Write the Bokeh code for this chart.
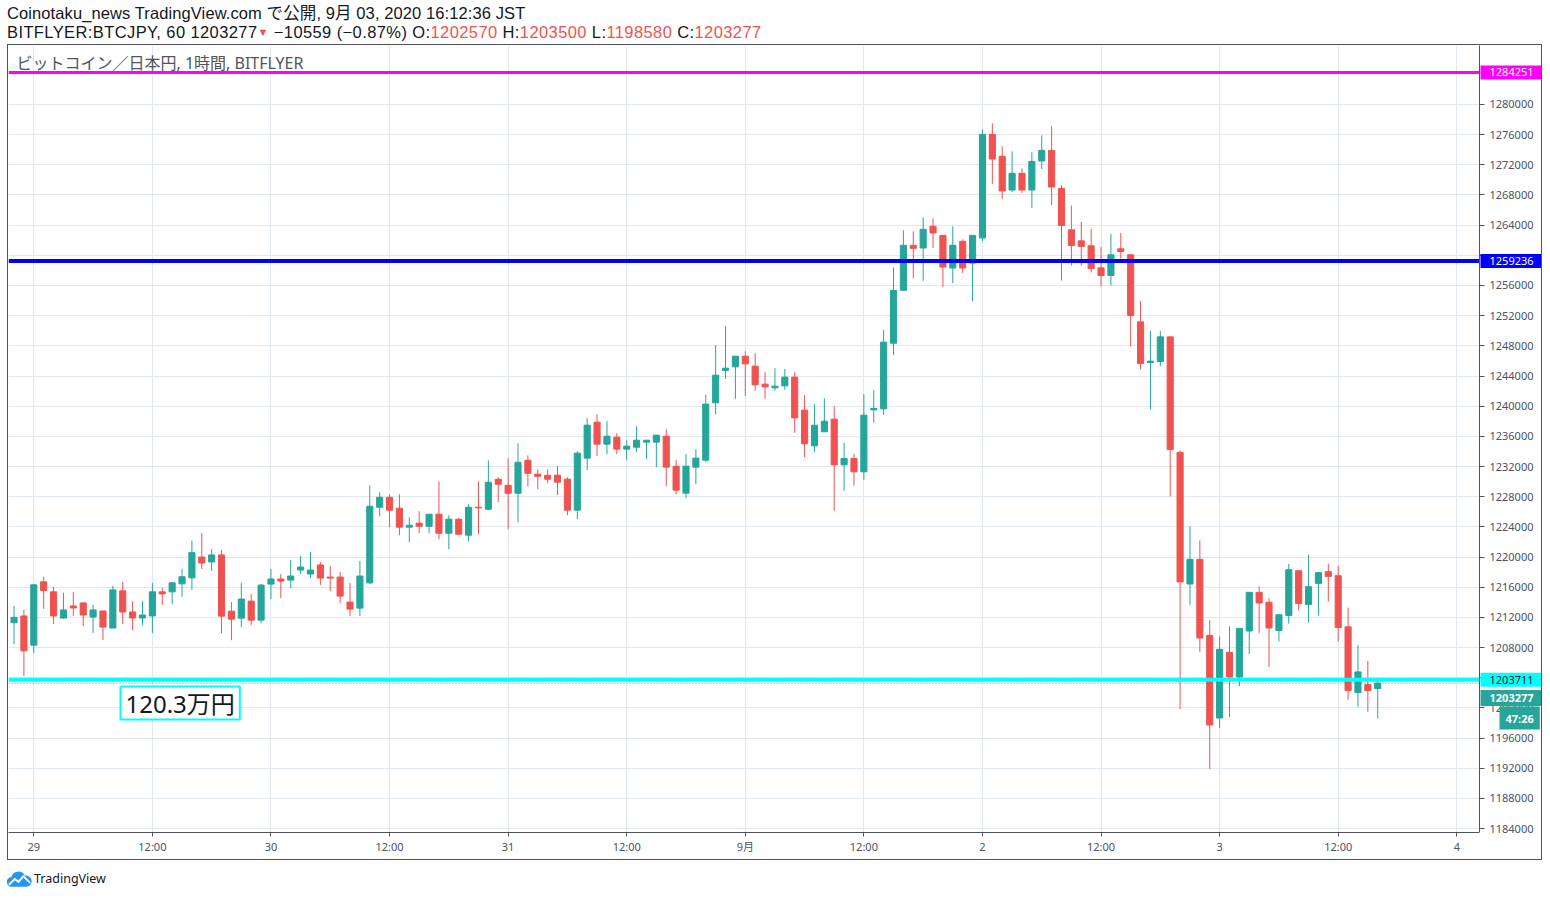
from bokeh.plotting import figure
from bokeh.models import Range1d, FixedTicker, BasicTickFormatter, Span, Label, Div, ColumnDataSource, Grid
from bokeh.layouts import column, row
from bokeh.embed import file_html
from bokeh.resources import INLINE

# hourly candles, hour 0 = 29 Aug 2020 00:00 JST (first candle 28 Aug 22:00, last 3 Sep 16:00)
hours = list(range(-2, 137))
opens = [1211290, 1212180, 1208310, 1216710, 1215380, 1211910, 1213510, 1213910, 1212040, 1212840,
         1210580, 1215510, 1212710, 1211910, 1212180, 1215380, 1215380, 1216440, 1217240, 1220000,
         1219340, 1220270, 1212820, 1211890, 1214150, 1211630, 1216410, 1217080, 1216940, 1218270,
         1217740, 1218940, 1217340, 1217340, 1214020, 1213220, 1216570, 1226600, 1227920, 1226460,
         1223950, 1224480, 1224080, 1225670, 1223150, 1225010, 1222890, 1226600, 1226330, 1230310,
         1229510, 1228450, 1232820, 1230970, 1230830, 1230850, 1230320, 1226210, 1233110, 1237880,
         1234960, 1235890, 1234300, 1234560, 1235230, 1235230, 1236020, 1232040, 1228460, 1231910,
         1232840, 1240440, 1244730, 1245220, 1246630, 1245300, 1242920, 1242430, 1242700, 1243850,
         1239470, 1234740, 1236600, 1238280, 1232220, 1233060, 1231290, 1239510, 1239650, 1248350,
         1255360, 1261330, 1260970, 1263850, 1262650, 1258320, 1261860, 1258980, 1262300, 1276040,
         1273130, 1268660, 1270870, 1268660, 1272510, 1273920, 1268860, 1263380, 1261920, 1261260,
         1258340, 1257330, 1260860, 1260070, 1251180, 1245790, 1245920, 1249190, 1233880, 1216420,
         1219690, 1209610, 1198650, 1207360, 1204090, 1210190, 1215310, 1213990, 1210250, 1212250,
         1218180, 1213710, 1216500, 1218050, 1217520, 1210740, 1202010, 1203080, 1202570]
highs = [1213510, 1212980, 1216440, 1217380, 1216040, 1215240, 1215380, 1214040, 1213640, 1212840,
         1216180, 1216710, 1214180, 1214180, 1216580, 1215910, 1216580, 1218440, 1222180, 1223190,
         1221060, 1220930, 1214020, 1216550, 1215080, 1216410, 1218400, 1217740, 1219600, 1220130,
         1220670, 1219340, 1218800, 1218010, 1216550, 1219470, 1229510, 1228580, 1228320, 1228320,
         1225270, 1226070, 1225670, 1230040, 1225540, 1225140, 1226990, 1230040, 1232820, 1230570,
         1233090, 1235070, 1233480, 1231630, 1231630, 1232040, 1230590, 1234030, 1238410, 1238940,
         1238010, 1236420, 1235490, 1237350, 1235490, 1236160, 1236950, 1232840, 1233640, 1234300,
         1241500, 1248090, 1250610, 1246630, 1247290, 1247030, 1244510, 1245040, 1244910, 1244510,
         1241460, 1240270, 1241060, 1240000, 1235140, 1233680, 1241590, 1242120, 1250080, 1258390,
         1263320, 1263180, 1265040, 1264910, 1262650, 1263850, 1262120, 1262650, 1276710, 1277500,
         1274450, 1273790, 1271540, 1273660, 1275910, 1277110, 1269300, 1266600, 1264440, 1263510,
         1261130, 1262850, 1262980, 1260070, 1253970, 1249990, 1249990, 1249190, 1234140, 1224070,
         1222210, 1211600, 1209480, 1210810, 1210540, 1215310, 1216110, 1214520, 1212340, 1219110,
         1218180, 1220310, 1218050, 1219110, 1218850, 1213270, 1208350, 1206220, 1203500]
lows = [1208440, 1204220, 1207290, 1213110, 1211110, 1211780, 1212180, 1210840, 1209910, 1208980,
        1210580, 1211110, 1210310, 1210980, 1209910, 1213640, 1213780, 1214710, 1215640, 1218400,
        1218140, 1209900, 1208970, 1210700, 1210960, 1211230, 1214420, 1214550, 1215880, 1217740,
        1217210, 1216280, 1215480, 1213890, 1212160, 1212160, 1216440, 1225400, 1223950, 1222890,
        1221960, 1223150, 1223150, 1222360, 1221030, 1222890, 1222090, 1223020, 1226200, 1227260,
        1223680, 1224610, 1229380, 1228980, 1229780, 1228200, 1225550, 1225020, 1231510, 1233370,
        1233640, 1233640, 1232840, 1233900, 1232970, 1231910, 1229390, 1228330, 1227800, 1229660,
        1232570, 1238900, 1243620, 1240970, 1241370, 1242030, 1240970, 1242030, 1242170, 1236460,
        1233280, 1233940, 1236600, 1226120, 1228770, 1229440, 1230230, 1237790, 1238850, 1246760,
        1255360, 1256950, 1256600, 1260970, 1255800, 1256330, 1257660, 1253940, 1261900, 1269460,
        1267470, 1268400, 1268270, 1266280, 1271450, 1266670, 1256660, 1258650, 1258650, 1257720,
        1255870, 1256000, 1259580, 1247910, 1244860, 1239560, 1245260, 1228020, 1199840, 1213640,
        1207400, 1191890, 1197330, 1198780, 1202890, 1207140, 1209920, 1205410, 1208790, 1211180,
        1212910, 1211320, 1212250, 1214110, 1208790, 1201080, 1200150, 1199490, 1198580]
closes = [1212000, 1207560, 1216310, 1215560, 1212180, 1212980, 1213240, 1212310, 1212980, 1210710,
          1215640, 1212710, 1211910, 1212310, 1215380, 1215110, 1216580, 1217380, 1220580, 1219200,
          1220270, 1212160, 1211760, 1214420, 1211630, 1216280, 1217080, 1216810, 1217480, 1218670,
          1218270, 1217210, 1217210, 1214820, 1213090, 1217480, 1226730, 1227920, 1226200, 1223950,
          1224210, 1224080, 1225670, 1223150, 1225010, 1223020, 1226600, 1226510, 1229910, 1229640,
          1228450, 1232560, 1231100, 1230700, 1230310, 1229920, 1226210, 1233770, 1237480, 1234960,
          1236020, 1234300, 1234700, 1235490, 1235490, 1236160, 1231910, 1228860, 1232040, 1233110,
          1240270, 1244110, 1245040, 1246630, 1245610, 1242830, 1242560, 1242650, 1243850, 1238450,
          1235010, 1237480, 1238010, 1232220, 1233060, 1231290, 1238810, 1239690, 1248490, 1255340,
          1261330, 1260930, 1263450, 1262960, 1258450, 1261330, 1258320, 1262650, 1276040, 1272770,
          1268530, 1270870, 1268660, 1272460, 1273920, 1269060, 1263960, 1261300, 1261170, 1258250,
          1257330, 1260070, 1260510, 1252020, 1245660, 1245970, 1249190, 1234250, 1216690, 1219690,
          1209260, 1197720, 1207760, 1204090, 1210540, 1215310, 1213900, 1210590, 1212340, 1218320,
          1213840, 1216060, 1217920, 1217430, 1210650, 1202280, 1204760, 1202280, 1203277]

x_tick_hours = [0, 12, 24, 36, 48, 60, 72, 84, 96, 108, 120, 132, 144]
x_tick_labels = ["29", "12:00", "30", "12:00", "31", "12:00", "9月", "12:00", "2", "12:00", "3", "12:00", "4"]
y_ticks = [1184000, 1188000, 1192000, 1196000, 1200000, 1204000, 1208000, 1212000, 1216000,
           1220000, 1224000, 1228000, 1232000, 1236000, 1240000, 1244000, 1248000, 1252000,
           1256000, 1260000, 1264000, 1268000, 1272000, 1276000, 1280000]
y_ticks_hidden = [1204000, 1260000]  # covered by price tags in the reference

level_magenta = 1284251
level_blue = 1259236
level_cyan = 1203711
last_close = 1203277
countdown = "47:26"
price_note = "120.3万円"
legend_text = "ビットコイン／日本円, 1時間, BITFLYER"

UP = "#26a69a"
DOWN = "#ef5350"
AXIS = "#50535e"
GRID = "#e1e9ef"
LABEL = "#4c525e"
FONT = "Noto Sans, Noto Sans CJK JP, sans-serif"
BORDER = "1px solid " + AXIS

X0, X1 = -2.56, 146.40
Y0, Y1 = 1183470, 1287823
FRAME_W, FRAME_H = 1472, 787
hpp = (X1 - X0) / FRAME_W  # hours per pixel
ppp = (Y1 - Y0) / FRAME_H  # price per pixel
yr = Range1d(Y0, Y1)

# ---------------- main chart ----------------
A = figure(width=FRAME_W, height=816, x_range=Range1d(X0, X1), y_range=yr,
           y_axis_location=None, output_backend="svg", toolbar_location=None,
           min_border_left=0, min_border_right=0, min_border_top=0, min_border_bottom=29)
A.margin = (0, 0, 0, 7)
A.outline_line_color = None
A.styles = {"border-left": BORDER, "border-top": BORDER, "border-bottom": BORDER}
A.background_fill_color = "white"
A.border_fill_color = "white"

A.xaxis.ticker = FixedTicker(ticks=x_tick_hours)
A.xaxis.major_label_overrides = {h: t for h, t in zip(x_tick_hours, x_tick_labels)}
A.xaxis.axis_line_color = AXIS
A.xaxis.major_tick_line_color = AXIS
A.xaxis.major_tick_out = 4
A.xaxis.major_tick_in = 0
A.xaxis.minor_tick_line_color = None
A.xaxis.major_label_standoff = 2
A.xaxis.major_label_text_font = FONT
A.xaxis.major_label_text_font_size = "11px"
A.xaxis.major_label_text_color = LABEL
A.xgrid.grid_line_color = GRID
A.ygrid.grid_line_color = None
A.add_layout(Grid(dimension=1, ticker=FixedTicker(ticks=y_ticks), grid_line_color=GRID))

colors = [UP if c >= o else DOWN for o, c in zip(opens, closes)]
src = ColumnDataSource(dict(x=hours, high=highs, low=lows,
                            top=[max(o, c) for o, c in zip(opens, closes)],
                            bottom=[min(o, c) for o, c in zip(opens, closes)],
                            color=colors))
A.segment(x0="x", y0="low", x1="x", y1="high", line_color="color", line_width=1, source=src)
A.vbar(x="x", width=0.62, top="top", bottom="bottom", fill_color="color",
       line_color="color", line_width=1, source=src)

A.add_layout(Span(location=last_close, dimension="width", line_color=UP, line_width=1, line_dash="1 2"))
A.add_layout(Span(location=level_magenta, dimension="width", line_color="#ff00ff", line_width=3))
A.add_layout(Span(location=level_blue, dimension="width", line_color="#0000ff", line_width=4))
A.add_layout(Span(location=level_cyan, dimension="width", line_color="#00ffff", line_width=4))

A.add_layout(Label(x=X0 + 8 * hpp, y=Y1 - 17 * ppp, text=legend_text, text_align="left",
                   text_baseline="middle", text_font=FONT, text_font_size="16px",
                   text_color=AXIS))
A.add_layout(Label(x=X0 + 112 * hpp, y=Y0 + 129.5 * ppp, text=price_note, text_align="left",
                   text_baseline="middle", text_font=FONT, text_font_size="24px",
                   text_color="#131722", background_fill_color="white",
                   border_line_color="#00ffff", border_line_width=2, padding=(5, 0)))

# ---------------- price scale ----------------
B = figure(width=63, height=816, x_range=Range1d(0, 63), y_range=yr,
           x_axis_location=None, y_axis_location="left", output_backend="svg",
           toolbar_location=None, min_border_left=0, min_border_right=0,
           min_border_top=0, min_border_bottom=29)
B.outline_line_color = None
B.styles = {"border-top": BORDER, "border-right": BORDER, "border-bottom": BORDER}
B.background_fill_color = "white"
B.border_fill_color = "white"
B.xgrid.grid_line_color = None
B.ygrid.grid_line_color = None
B.yaxis.ticker = FixedTicker(ticks=y_ticks)
B.yaxis.formatter = BasicTickFormatter(use_scientific=False)
B.yaxis.major_label_overrides = {t: "" for t in y_ticks_hidden}
B.yaxis.axis_line_color = AXIS
B.yaxis.major_tick_line_color = AXIS
B.yaxis.major_tick_in = 5
B.yaxis.major_tick_out = 0
B.yaxis.minor_tick_line_color = None
B.yaxis.major_label_standoff = -54
B.yaxis.major_label_text_font = FONT
B.yaxis.major_label_text_font_size = "11px"
B.yaxis.major_label_text_color = LABEL


def price_tag(price, text, bg, fg, bold=False, x=1, pad=(9, 3)):
    B.add_layout(Label(x=x, y=price, text=text, text_align="left", text_baseline="middle",
                       text_font=FONT, text_font_size="11px", text_color=fg,
                       text_font_style="bold" if bold else "normal",
                       background_fill_color=bg, padding=pad))


price_tag(level_magenta, str(level_magenta), "#ff00ff", "white")
price_tag(level_blue, str(level_blue), "#0000ff", "white")
price_tag(level_cyan, str(level_cyan), "#00ffff", "#131722")
price_tag(last_close - 15 * ppp, str(last_close), UP, "white", bold=True, pad=(9, 4))
price_tag(last_close - 35 * ppp, countdown, UP, "white", bold=True, x=20, pad=(6, 4))

# ---------------- header / footer ----------------
header_html = (
    "<div style=\"font-family:'Liberation Sans','Noto Sans CJK JP',sans-serif;font-size:16.5px;"
    "line-height:19px;color:#131722;position:relative;top:4px;left:7px;white-space:nowrap\">"
    "<div style=\"letter-spacing:0.1px\">Coinotaku_news TradingView.com で公開, 9月 03, 2020 16:12:36 JST</div>"
    "<div style=\"letter-spacing:0.4px\">BITFLYER:BTCJPY, 60 1203277"
    "<span style=\"color:#ef5350;font-size:11px;vertical-align:top\">▼</span>"
    " −10559 (−0.87%) O:<span style=\"color:#ef5350\">1202570</span>"
    " H:<span style=\"color:#ef5350\">1203500</span>"
    " L:<span style=\"color:#ef5350\">1198580</span>"
    " C:<span style=\"color:#ef5350\">1203277</span></div></div>"
)
header = Div(text=header_html, width=1540, height=44, margin=(0, 0, 0, 0))

footer_html = (
    "<div style=\"display:flex;align-items:center;font-family:'Noto Sans',sans-serif;"
    "font-size:12.5px;color:#131722;padding-top:10px;margin-left:7px\">"
    "<svg width=\"25\" height=\"16\" viewBox=\"0 0 26 16\">"
    "<path d=\"M5 16 A5 5 0 0 1 4.5 6 A7.5 7.5 0 0 1 18.5 4.5 A5.8 5.8 0 0 1 21 16 Z\" fill=\"#2196f3\"/>"
    "<polyline points=\"2,14 8,8 12,11 17,5 24,12\" fill=\"none\" stroke=\"white\" stroke-width=\"2\"/>"
    "</svg><span style=\"margin-left:2px\">TradingView</span></div>"
)
footer = Div(text=footer_html, width=300, height=28, margin=(0, 0, 0, 0))

layout = column(header, row(A, B), footer)
open("out.html", "w").write(file_html(layout, INLINE))
